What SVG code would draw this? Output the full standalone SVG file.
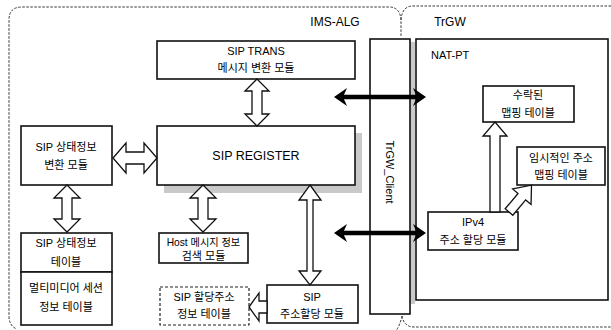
<svg xmlns="http://www.w3.org/2000/svg" width="611" height="330" viewBox="0 0 611 330">
<style>
.box{fill:#fff;stroke:#111;stroke-width:1.6}
.dbox{fill:#fff;stroke:#222;stroke-width:1.2;stroke-dasharray:3,2}
.bound{fill:none;stroke:#333;stroke-width:1;stroke-dasharray:2.5,1.5}
.ar{fill:#fff;stroke:#111;stroke-width:1.3;stroke-linejoin:miter}
.t{font-family:"Liberation Sans","Noto Sans CJK KR",sans-serif;font-size:11px;fill:#000;text-anchor:middle}
.l{font-family:"Liberation Sans","Noto Sans CJK KR",sans-serif;font-size:12px;fill:#000}
.big{font-size:12.5px}
.sm{font-size:10.2px}
.shade{fill:#c9c9c9}
.thick{stroke:#000;stroke-width:4.5;fill:none}
.head{fill:#000}
</style>

<g id="boundaries">
<path class="bound" d="M611,6 L413,6 Q402,6 401,20 L401,36 M401,20 Q400,7 389,7 L22,7 Q9,7 9,20 L9,316 Q9,326 17,329"/>
<path class="bound" d="M402,316 Q400,325 396,331 M402,316 Q404,327 414,327 L611,327"/>
<text class="l" x="335" y="26" text-anchor="middle">IMS-ALG</text>
<text class="l" x="450" y="26" text-anchor="middle">TrGW</text>
</g>

<g id="sip-trans">
<rect class="box" x="157" y="41" width="198" height="38"/>
<text class="t" x="256" y="55">SIP TRANS</text>
<text class="t" x="256" y="72">메시지 변환 모듈</text>
</g>

<g id="sip-register">
<rect class="shade" x="164" y="133" width="198" height="60"/>
<rect class="box" x="157" y="126" width="198" height="59"/>
<text class="t big" x="256" y="160">SIP REGISTER</text>
</g>

<g id="sip-state-conv">
<rect class="box" x="21" y="126" width="91" height="59"/>
<text class="t" x="66" y="151">SIP 상태정보</text>
<text class="t" x="66" y="169">변환 모듈</text>
</g>

<g id="sip-state-table">
<rect class="box" x="21" y="233" width="91" height="39"/>
<text class="t" x="66" y="247">SIP 상태정보</text>
<text class="t" x="66" y="266">테이블</text>
</g>

<g id="mm-session-table">
<rect class="box" x="21" y="272" width="91" height="53"/>
<text class="t" x="66" y="292">멀티미디어 세션</text>
<text class="t" x="66" y="311">정보 테이블</text>
</g>

<g id="host-msg">
<rect class="box" x="159" y="233" width="89" height="30"/>
<text class="t sm" x="203.5" y="246">Host 메시지 정보</text>
<text class="t" x="203.5" y="260">검색 모듈</text>
</g>

<g id="sip-alloc-table">
<rect class="dbox" x="160" y="287" width="89" height="38"/>
<text class="t" x="204" y="301">SIP 할당주소</text>
<text class="t" x="204" y="318">정보 테이블</text>
</g>

<g id="sip-alloc-module">
<rect class="box" x="267" y="285" width="91" height="38"/>
<text class="t" x="312" y="301">SIP</text>
<text class="t" x="312" y="318">주소할당 모듈</text>
</g>

<g id="trgw-client">
<rect class="shade" x="410" y="42" width="5" height="262"/>
<rect class="box" x="370" y="39" width="40" height="275"/>
<text class="l" x="0" y="0" text-anchor="middle" style="font-size:11px" transform="translate(386,172) rotate(90)">TrGW_Client</text>
</g>

<g id="nat-pt">
<rect class="box" x="416" y="39" width="192" height="261"/>
<text class="l" x="431" y="59" style="font-size:11px">NAT-PT</text>
</g>

<g id="accepted-map">
<rect class="box" x="483" y="86" width="91" height="36"/>
<text class="t" x="528" y="99">수락된</text>
<text class="t" x="528" y="117">맵핑 테이블</text>
</g>

<g id="temp-map">
<rect class="box" x="517" y="147" width="88" height="38"/>
<text class="t" x="561" y="162">임시적인 주소</text>
<text class="t" x="561" y="179">맵핑 테이블</text>
</g>

<g id="ipv4-alloc">
<rect class="box" x="428" y="212" width="90" height="38"/>
<text class="t" x="473" y="226">IPv4</text>
<text class="t" x="473" y="244">주소 할당 모듈</text>
</g>

<g id="connectors">
<polygon class="ar" points="257,79 269,91 262,91 262,114 269,114 257,126 245,114 252,114 252,91 245,91"/>
<polygon class="ar" points="113,158 126,143 126,152 144,152 144,143 157,158 144,173 144,164 126,164 126,173"/>
<polygon class="ar" points="67,185 80,198 72,198 72,219 80,219 67,232 54,219 62,219 62,198 54,198"/>
<polygon class="ar" points="203,185 216,198 208,198 208,219 216,219 203,232 190,219 198,219 198,198 190,198"/>
<polygon class="ar" points="310,185 321,200 313,200 313,271 321,271 310,285 299,271 307,271 307,200 299,200"/>
<polygon class="ar" points="249,307 259,293 259,301 267,301 267,313 259,313 259,321"/>
<polygon class="ar" points="495,122 507,136 500,136 500,212 490,212 490,136 483,136"/>
<polygon class="ar" transform="translate(509,212) rotate(-50)" points="0,-5 20,-5 20,-12 35,0 20,12 20,5 0,5"/>
<line class="thick" x1="341" y1="97" x2="419" y2="97"/>
<polygon class="head" points="334,97 347,88 343,97 347,106"/>
<polygon class="head" points="426,97 413,88 417,97 413,106"/>
<line class="thick" x1="341" y1="233" x2="419" y2="233"/>
<polygon class="head" points="334,233 347,224 343,233 347,242"/>
<polygon class="head" points="426,233 413,224 417,233 413,242"/>
</g>
</svg>
